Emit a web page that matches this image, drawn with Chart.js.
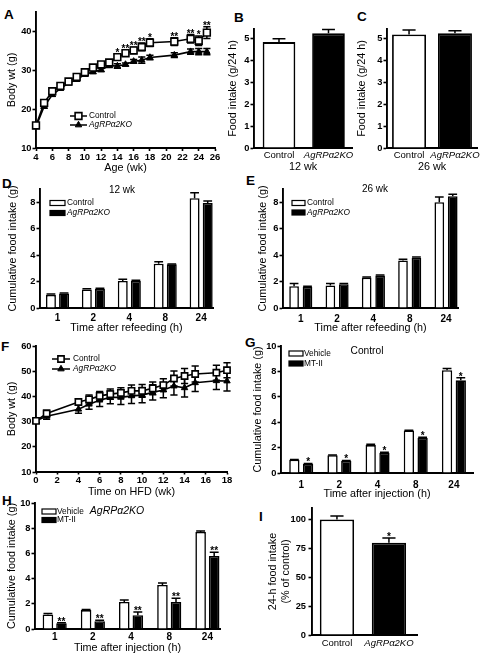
<!DOCTYPE html>
<html><head><meta charset="utf-8">
<script src="https://cdn.jsdelivr.net/npm/chart.js@4.4.1/dist/chart.umd.min.js"></script>
<style>
html,body{margin:0;padding:0;background:#fff}
body{position:relative;width:492px;height:665px;overflow:hidden;font-family:"Liberation Sans",Arial,Helvetica,sans-serif}
canvas{position:absolute}
.pl{position:absolute;font-weight:bold;font-size:13.5px;line-height:13px;color:#000}
</style></head><body>
<div class="pl" style="left:4px;top:8px">A</div>
<div class="pl" style="left:234px;top:11px">B</div>
<div class="pl" style="left:357px;top:10px">C</div>
<div class="pl" style="left:2px;top:177px">D</div>
<div class="pl" style="left:246px;top:174px">E</div>
<div class="pl" style="left:1px;top:340px">F</div>
<div class="pl" style="left:245px;top:336px">G</div>
<div class="pl" style="left:2px;top:494px">H</div>
<div class="pl" style="left:259px;top:510px">I</div>
<script>
// ---------------- DATA ----------------
// A: body weight vs age
const ageWeeks      = [4,5,6,7,8,9,10,11,12,13,14,15,16,17,18,21,23,24,25];
const ageControl    = [15.8,21.6,24.6,26.0,27.1,28.3,29.5,30.7,31.5,32.0,33.4,34.4,35.1,36.0,37.1,37.4,38.1,37.6,39.7];
const ageControlErr = [0.6,0.5,0.5,0.5,0.4,0.4,0.5,0.5,0.5,0.6,0.7,0.7,0.8,1.0,1.0,1.0,1.1,1.2,1.5];
const ageKO         = [15.5,20.7,23.7,25.3,26.7,27.6,28.9,29.6,30.1,31.2,31.1,31.5,32.3,32.6,33.3,33.9,34.8,34.8,34.8];
const ageKOErr      = [0.5,0.5,0.4,0.4,0.4,0.4,0.4,0.4,0.4,0.5,0.6,0.4,0.5,0.8,0.6,0.6,0.7,0.8,0.8];
const ageStars      = ['','','','','','','','','','','*','**','**','**','*','**','**','*','**'];
// B, C: daily food intake
const genotypes   = ['Control','AgRPα2KO'];
const intake12    = [4.85,5.25];
const intake12Err = [0.15,0.18];
const intake26    = [5.2,5.25];
const intake26Err = [0.2,0.12];
// D, E: cumulative intake after refeeding
const refeedHours   = ['1','2','4','8','24'];
const d12Control    = [1.0,1.4,2.05,3.35,8.3];
const d12ControlErr = [0.05,0.05,0.12,0.15,0.42];
const d12KO         = [1.1,1.45,2.05,3.3,7.95];
const d12KOErr      = [0.03,0.04,0.05,0.03,0.15];
const e26Control    = [1.65,1.7,2.3,3.6,8.0];
const e26ControlErr = [0.2,0.15,0.05,0.08,0.4];
const e26KO         = [1.6,1.8,2.45,3.8,8.45];
const e26KOErr      = [0.04,0.06,0.05,0.05,0.15];
// F: body weight on HFD
const hfdWeeks      = [0,1,4,5,6,7,8,9,10,11,12,13,14,15,17,18];
const hfdControl    = [30.3,33.2,37.8,38.8,40.2,40.9,41.4,42.2,42.2,43.2,44.5,47.1,48.1,48.9,49.4,50.4];
const hfdControlErr = [0.8,1.3,1.3,1.8,1.7,2.0,2.0,2.3,2.5,2.5,2.5,3.0,3.0,3.2,3.0,3.0];
const hfdKO         = [30.3,32.1,34.9,36.9,38.5,39.6,39.6,40.2,40.5,41.6,42.5,44.1,43.4,45.4,46.2,46.1];
const hfdKOErr      = [0.8,1.2,1.6,2.0,2.5,2.5,2.8,3.0,3.0,3.0,3.0,3.5,3.6,3.5,3.5,4.0];
// G, H: MT-II injection
const injHours    = ['1','2','4','8','24'];
const gVehicle    = [1.05,1.4,2.2,3.35,8.1];
const gVehicleErr = [0.02,0.02,0.07,0.02,0.12];
const gMT         = [0.7,0.95,1.6,2.75,7.3];
const gMTErr      = [0.05,0.04,0.04,0.06,0.2];
const gStars      = ['*','*','*','*','*'];
const hVehicle    = [1.15,1.5,2.15,3.5,7.7];
const hVehicleErr = [0.08,0.05,0.15,0.15,0.08];
const hMT         = [0.45,0.62,1.1,2.15,5.8];
const hMTErr      = [0.05,0.07,0.25,0.3,0.3];
const hStars      = ['**','**','**','**','**'];
// I: 24-h intake % of control
const iValues = [100,80];
const iErr    = [3,4];
const iStars  = ['','*'];

// ---------------- SETUP ----------------
const FF = '"Liberation Sans", Arial, Helvetica, sans-serif';
const AXW = 1.9;
Chart.defaults.font.family = FF;
Chart.defaults.color = '#000';
Chart.defaults.animation = false;
Chart.defaults.plugins.legend.display = false;
Chart.defaults.plugins.tooltip.enabled = false;

function valAt(ds,i){ const d=ds.data[i]; return (d!==null && typeof d==='object') ? d.y : d; }
function drawErrors(chart, mode){
  const ctx=chart.ctx;
  chart.data.datasets.forEach((ds,di)=>{
    if(!ds.errors || (ds.errorMode||'up')!==mode) return;
    const meta=chart.getDatasetMeta(di), ys=chart.scales[meta.yAxisID];
    ctx.save(); ctx.strokeStyle='#000'; ctx.lineWidth=1.5;
    meta.data.forEach((el,i)=>{
      const v=valAt(ds,i), e=ds.errors[i]; if(e==null) return;
      const x=el.x, yt=ys.getPixelForValue(v+e);
      const hw = el.width ? 3.5+0.09*el.width : 3.6;
      ctx.beginPath();
      if(mode==='up'){ ctx.moveTo(x,el.y); ctx.lineTo(x,yt); }
      else { const yb=ys.getPixelForValue(v-e); ctx.moveTo(x,yb); ctx.lineTo(x,yt); ctx.moveTo(x-hw,yb); ctx.lineTo(x+hw,yb); }
      ctx.moveTo(x-hw,yt); ctx.lineTo(x+hw,yt);
      ctx.stroke();
    });
    ctx.restore();
  });
}
function drawStars(chart){
  const ctx=chart.ctx;
  chart.data.datasets.forEach((ds,di)=>{
    if(!ds.stars) return;
    const meta=chart.getDatasetMeta(di), ys=chart.scales[meta.yAxisID];
    ctx.save(); ctx.fillStyle='#000'; ctx.font='bold 10px '+FF; ctx.textAlign='center'; ctx.textBaseline='alphabetic';
    meta.data.forEach((el,i)=>{
      const s=ds.stars[i]; if(!s) return;
      const v=valAt(ds,i), e=(ds.errors?ds.errors[i]:0)||0;
      ctx.fillText(s, el.x, ys.getPixelForValue(v+e)+2);
    });
    ctx.restore();
  });
}
const extrasPlugin = {
  id:'extras',
  beforeDatasetsDraw(chart){ drawErrors(chart,'both'); },
  afterDatasetsDraw(chart){ drawErrors(chart,'up'); drawStars(chart); },
  afterDraw(chart, args, opts){
    const ctx=chart.ctx, ca=chart.chartArea;
    if(opts.legend){
      const L=opts.legend;
      ctx.save();
      chart.data.datasets.forEach((ds,i)=>{
        const y=ca.top+L.y+i*L.gap, x0=ca.left+L.x;
        if(L.kind==='line'){
          ctx.strokeStyle='#000'; ctx.lineWidth=1.5;
          ctx.beginPath(); ctx.moveTo(x0,y); ctx.lineTo(x0+L.w,y); ctx.stroke();
          ctx.fillStyle=ds.pointBackgroundColor; ctx.lineWidth=ds.pointBorderWidth||1;
          Chart.helpers.drawPoint(ctx,{pointStyle:ds.pointStyle,radius:ds.pointRadius,borderWidth:ds.pointBorderWidth||1,rotation:0},x0+L.w/2,y);
        } else {
          ctx.fillStyle=ds.backgroundColor; ctx.fillRect(x0,y-L.h/2,L.w,L.h);
          ctx.strokeStyle='#000'; ctx.lineWidth=1.2; ctx.strokeRect(x0,y-L.h/2,L.w,L.h);
        }
        ctx.fillStyle='#000';
        ctx.font=(/KO/.test(ds.label)?'italic ':'')+L.size+'px '+FF;
        ctx.textAlign='left'; ctx.textBaseline='middle';
        ctx.fillText(ds.label, x0+L.w+L.tx, y);
      });
      ctx.restore();
    }
    if(opts.note){
      const N=opts.note;
      ctx.save(); ctx.fillStyle='#000';
      ctx.font=(N.italic?'italic ':'')+N.size+'px '+FF;
      ctx.textAlign='center'; ctx.textBaseline='middle';
      ctx.fillText(N.text, ca.left+N.x, ca.top+N.y);
      ctx.restore();
    }
  }
};
Chart.register(extrasPlugin);

function makePanel(p){
  const [cx,cy,cw,ch]=p.box, [l,t,r,b]=p.plot;
  const cv=document.createElement('canvas');
  cv.width=cw; cv.height=ch; cv.style.left=cx+'px'; cv.style.top=cy+'px';
  document.body.appendChild(cv);
  const o=p.config.options;
  o.responsive=false; o.maintainAspectRatio=false; o.animation=false;
  o.layout={padding:{left:0,top:t-cy,right:cx+cw-r,bottom:0}};
  const ys=o.scales.y, xs=o.scales.x;
  ys.afterFit=(s)=>{s.width=l-cx; s.paddingTop=0; s.paddingBottom=0; s.paddingLeft=0; s.paddingRight=0;};
  xs.afterFit=(s)=>{s.height=cy+ch-b; s.paddingTop=0; s.paddingBottom=0; s.paddingLeft=0; s.paddingRight=0;};
  if(ys.title && ys.title.display){ const lh=ys.title.font.size*1.2; ys.title.padding={top:p.yTitleX-cx-lh/2,bottom:0}; }
  if(xs.title && xs.title.display){ const lh=xs.title.font.size*1.2; xs.title.padding={top:0,bottom:cy+ch-p.xTitleY-lh/2}; }
  return new Chart(cv,p.config);
}
function yScale(min,max,step,title,tl,pad){
  return {type:'linear',min:min,max:max,
    ticks:{stepSize:step,includeBounds:false,font:{size:9.3,weight:'bold'},padding:pad,color:'#000'},
    grid:{display:true,drawOnChartArea:false,drawTicks:true,tickLength:tl,tickWidth:1.6,tickColor:'#000'},
    border:{display:true,color:'#000',width:AXW},
    title:{display:!!title,text:title,font:{size:10.8},color:'#000'}};
}
function xLinear(min,max,step,title,tl,pad){
  return {type:'linear',min:min,max:max,offset:false,
    ticks:{stepSize:step,includeBounds:false,autoSkip:false,maxRotation:0,font:{size:9.5,weight:'bold'},padding:pad,color:'#000'},
    grid:{display:true,drawOnChartArea:false,drawTicks:true,tickLength:tl,tickWidth:1.6,tickColor:'#000'},
    border:{display:true,color:'#000',width:AXW},
    title:{display:!!title,text:title,font:{size:10.8},color:'#000'}};
}
function xCats(min,max,labels,title,pad,bold){
  return {type:'linear',min:min,max:max,offset:false,
    ticks:{stepSize:1,includeBounds:false,autoSkip:false,maxRotation:0,padding:pad,color:'#000',
      callback:(v)=>labels[v]!==undefined?labels[v]:'',
      font:(c)=>bold?{size:10,weight:'bold'}:{size:9.5,style:(c.tick&&c.tick.value===1)?'italic':'normal'}},
    grid:{display:false,drawTicks:false,tickLength:0,offset:false},
    border:{display:true,color:'#000',width:AXW},
    title:{display:!!title,text:title,font:{size:10.8},color:'#000'}};
}
const pts=(xs,ys)=>xs.map((x,i)=>({x:x,y:ys[i]}));
const idx=(ys)=>ys.map((y,i)=>({x:i,y:y}));
function lineSets(xv,c,ce,k,ke,stars,r){
  return [
    {label:'Control',data:pts(xv,c),errors:ce,errorMode:'both',stars:stars,borderColor:'#000',borderWidth:1.6,
     pointStyle:'rect',pointRadius:r,pointBackgroundColor:'#fff',pointBorderColor:'#000',pointBorderWidth:1.6,clip:false},
    {label:'AgRPα2KO',data:pts(xv,k),errors:ke,errorMode:'both',borderColor:'#000',borderWidth:1.6,
     pointStyle:'triangle',pointRadius:3.7,pointBackgroundColor:'#000',pointBorderColor:'#000',pointBorderWidth:1,clip:false}
  ];
}
function pairSets(lab1,v1,e1,lab2,v2,e2,stars2,cp,bp){
  return [
    {label:lab1,data:idx(v1),errors:e1,backgroundColor:'#fff',borderColor:'#000',borderWidth:1.6,categoryPercentage:cp,barPercentage:bp},
    {label:lab2,data:idx(v2),errors:e2,stars:stars2,backgroundColor:'#000',borderColor:'#000',borderWidth:1.6,categoryPercentage:cp,barPercentage:bp}
  ];
}

// ---------------- PANELS ----------------
// A
makePanel({box:[0,4,230,172],plot:[36,12,215,148],yTitleX:12.5,xTitleY:168,config:{type:'line',
  data:{datasets:lineSets(ageWeeks,ageControl,ageControlErr,ageKO,ageKOErr,ageStars,4.8)},
  options:{scales:{x:xLinear(4,26,2,'Age (wk)',3,0.5),y:yScale(10,45,10,'Body wt (g)',3.5,1)},
    plugins:{extras:{legend:{kind:'line',x:34,y:104,gap:9,w:17,tx:2,size:8.3}}}}}});
// B
makePanel({box:[222,4,135,172],plot:[254,29,352,148],yTitleX:233,xTitleY:167,config:{type:'bar',
  data:{datasets:[{label:'Food intake',data:idx(intake12),errors:intake12Err,backgroundColor:['#fff','#000'],borderColor:'#000',borderWidth:1.8,categoryPercentage:1,barPercentage:0.66}]},
  options:{scales:{x:xCats(-0.505,1.475,genotypes,'12 wk',1.3,false),y:yScale(0,5.45,1,'Food intake (g/24 h)',3.5,1)}}}});
// C
makePanel({box:[352,4,135,172],plot:[387,29,477,148],yTitleX:362,xTitleY:167,config:{type:'bar',
  data:{datasets:[{label:'Food intake',data:idx(intake26),errors:intake26Err,backgroundColor:['#fff','#000'],borderColor:'#000',borderWidth:1.8,categoryPercentage:1,barPercentage:0.74}]},
  options:{scales:{x:xCats(-0.48,1.48,genotypes,'26 wk',1.3,false),y:yScale(0,5.45,1,'Food intake (g/24 h)',3.5,1)}}}});
// D
makePanel({box:[0,180,235,160],plot:[40,189,213,308],yTitleX:13,xTitleY:328,config:{type:'bar',
  data:{datasets:pairSets('Control',d12Control,d12ControlErr,'AgRPα2KO',d12KO,d12KOErr,null,0.73,0.76)},
  options:{scales:{x:xCats(-0.487,4.33,refeedHours,'Time after refeeding (h)',4.5,true),y:yScale(0,9,1,'Cumulative food intake (g)',3.5,1)},
    plugins:{extras:{legend:{kind:'box',x:10,y:14,gap:10,w:15,h:5,tx:2,size:8.3},note:{text:'12 wk',x:82,y:1,size:10}}}}}});
// E
makePanel({box:[245,180,235,160],plot:[283,189,458,308],yTitleX:263,xTitleY:328,config:{type:'bar',
  data:{datasets:pairSets('Control',e26Control,e26ControlErr,'AgRPα2KO',e26KO,e26KOErr,null,0.74,0.72)},
  options:{scales:{x:xCats(-0.49,4.33,refeedHours,'Time after refeeding (h)',5,true),y:yScale(0,9,1,'Cumulative food intake (g)',3.5,1)},
    plugins:{extras:{legend:{kind:'box',x:9,y:14,gap:9.5,w:13,h:5,tx:2,size:8.3},note:{text:'26 wk',x:92,y:0,size:10}}}}}});
// F
makePanel({box:[0,340,235,160],plot:[36,346,227,472],yTitleX:12,xTitleY:492,config:{type:'line',
  data:{datasets:lineSets(hfdWeeks,hfdControl,hfdControlErr,hfdKO,hfdKOErr,null,4.4)},
  options:{scales:{x:xLinear(0,18,2,'Time on HFD (wk)',2.5,0),y:yScale(10,60,10,'Body wt (g)',3.5,1)},
    plugins:{extras:{legend:{kind:'line',x:16,y:13,gap:10,w:18,tx:3,size:8.3}}}}}});
// G
makePanel({box:[245,338,240,165],plot:[281,346,473,473],yTitleX:258,xTitleY:494,config:{type:'bar',
  data:{datasets:pairSets('Vehicle',gVehicle,gVehicleErr,'MT-II',gMT,gMTErr,gStars,0.72,0.75)},
  options:{scales:{x:xCats(-0.53,4.5,injHours,'Time after injection (h)',6.5,true),y:yScale(0,10,2,'Cumulative food intake (g)',3.5,1)},
    plugins:{extras:{legend:{kind:'box',x:8,y:7.5,gap:10,w:14,h:5,tx:1,size:8.3},note:{text:'Control',x:86,y:5,size:10.2}}}}}});
// H
makePanel({box:[0,495,235,170],plot:[35,503,220,629],yTitleX:12,xTitleY:648,config:{type:'bar',
  data:{datasets:pairSets('Vehicle',hVehicle,hVehicleErr,'MT-II',hMT,hMTErr,hStars,0.71,0.78)},
  options:{scales:{x:xCats(-0.516,4.33,injHours,'Time after injection (h)',2.3,true),y:yScale(0,10,2,'Cumulative food intake (g)',3.5,1)},
    plugins:{extras:{legend:{kind:'box',x:7,y:8.5,gap:8.5,w:14,h:5,tx:1,size:8.3},note:{text:'AgRPα2KO',x:82,y:8,size:10.5,italic:true}}}}}});
// I
makePanel({box:[255,503,180,162],plot:[312,508,417,635],yTitleX:273,config:{type:'bar',
  data:{datasets:[{label:'24-h food intake',data:idx(iValues),errors:iErr,stars:iStars,backgroundColor:['#fff','#000'],borderColor:'#000',borderWidth:1.8,categoryPercentage:1,barPercentage:0.66}]},
  options:{scales:{x:xCats(-0.48,1.54,genotypes,'',2.3,false),y:yScale(0,110,25,['24-h food intake','(% of control)'],3.5,2.5)}}}});
</script>
</body></html>
